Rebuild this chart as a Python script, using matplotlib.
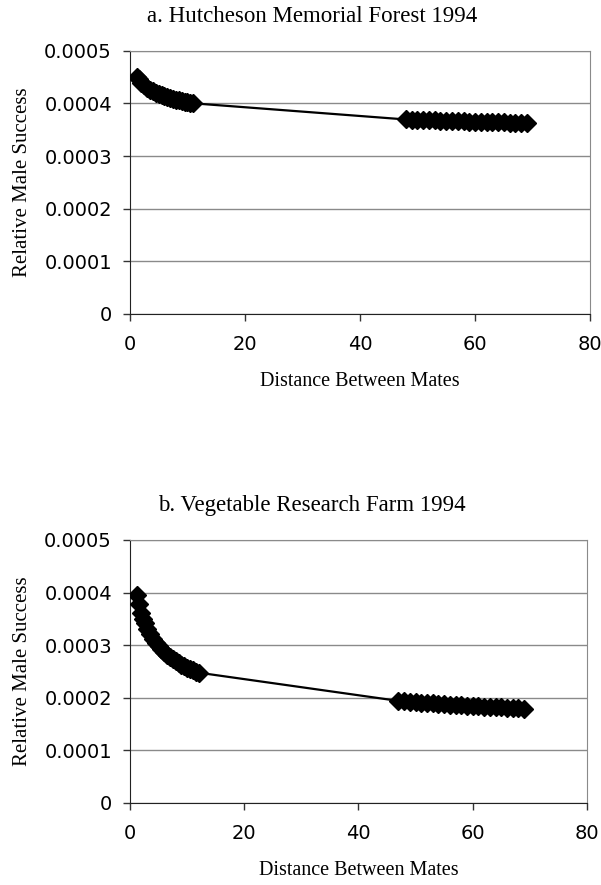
import matplotlib
matplotlib.use("Agg")
import matplotlib.pyplot as plt

# panel a - Hutcheson Memorial Forest 1994
dist_a = [1.3, 1.5, 2, 2.5, 3, 3.5, 4, 4.5, 5, 5.5, 6, 6.5, 7, 7.5, 8, 8.5, 9, 9.5, 10, 10.5, 11,
          48, 49, 50, 51, 52, 53, 54, 55, 56, 57, 58, 59, 60, 61, 62, 63, 64, 65, 66, 67, 68, 69]
succ_a = [450, 446.5, 439.5, 434.1, 429.8, 426.1, 423.0, 420.3, 417.9, 415.7, 413.7, 411.9, 410.2,
          408.7, 407.2, 405.9, 404.6, 403.4, 402.3, 401.2, 400.1,
          369.4, 369.0, 368.6, 368.2, 367.9, 367.5, 367.2, 366.8, 366.5, 366.2, 365.8, 365.5,
          365.2, 364.9, 364.6, 364.3, 364.0, 363.7, 363.4, 363.1, 362.9, 362.6]

# panel b - Vegetable Research Farm 1994
dist_b = [1.3, 1.6, 2.0, 2.3, 2.6, 3.0, 3.5, 4, 4.5, 5, 5.5, 6, 6.5, 7, 7.5, 8, 8.5, 9, 9.5, 10,
          10.5, 11, 11.5, 12,
          47, 48, 49, 50, 51, 52, 53, 54, 55, 56, 57, 58, 59, 60, 61, 62, 63, 64, 65, 66, 67, 68, 69]
succ_b = [395, 378.1, 360.8, 350.4, 341.5, 331.4, 320.8, 312.0, 304.3, 297.7, 291.8, 286.5, 281.7,
          277.4, 273.4, 269.7, 266.3, 263.1, 260.1, 257.3, 254.7, 252.2, 249.9, 247.7,
          194.0, 193.2, 192.3, 191.5, 190.8, 190.0, 189.3, 188.5, 187.8, 187.1, 186.4, 185.8,
          185.1, 184.5, 183.9, 183.2, 182.6, 182.0, 181.5, 180.9, 180.3, 179.8, 179.2]

titles = ["a. Hutcheson Memorial Forest 1994", "b. Vegetable Research Farm 1994"]
yticks = [0, 0.0001, 0.0002, 0.0003, 0.0004, 0.0005]
ytick_labels = ["0", "0.0001", "0.0002", "0.0003", "0.0004", "0.0005"]
xticks = [0, 20, 40, 60, 80]

fig = plt.figure(figsize=(6.01, 8.85), dpi=100)
ax_a = fig.add_axes([0.2163, 0.6452, 0.7654, 0.2975])
ax_b = fig.add_axes([0.2163, 0.0927, 0.7604, 0.2972])

serif = "Liberation Serif"
panels = [(ax_a, dist_a, succ_a, 17), (ax_b, dist_b, succ_b, 505)]
for i, (ax, xs, ys, title_y) in enumerate(panels):
    ys = [v * 1e-6 for v in ys]
    ax.plot(xs, ys, color="black", lw=1.6, marker="D", ms=9.5, zorder=3)
    ax.set_xlim(0, 80)
    ax.set_ylim(0, 0.0005)
    ax.set_yticks(yticks)
    ax.set_yticklabels(ytick_labels)
    ax.set_xticks(xticks)
    ax.grid(axis="y", color="#8a8a8a", lw=1)
    ax.set_axisbelow(True)
    for side in ["top", "right"]:
        ax.spines[side].set_color("#8a8a8a")
    for side in ["left", "bottom"]:
        ax.spines[side].set_color("#222222")
    ax.tick_params(axis="both", direction="out", length=5, width=1, color="#333333",
                   labelsize=14)
    ax.tick_params(axis="y", pad=8)
    ax.tick_params(axis="x", pad=10)
    for lab in ax.get_xticklabels() + ax.get_yticklabels():
        lab.set_family("DejaVu Sans")
    ax.set_ylabel("Relative Male Success", family=serif, fontsize=15)
    ax.yaxis.set_label_coords(-0.214, 0.5)
    ax.set_xlabel("Distance Between Mates", family=serif, fontsize=14.5)
    ax.xaxis.set_label_coords(0.5, -0.22)
    fig.text(312 / 601, 1 - title_y / 885, titles[i], family=serif, fontsize=16.5,
             ha="center", va="center")

fig.savefig("out.png", dpi=100)
